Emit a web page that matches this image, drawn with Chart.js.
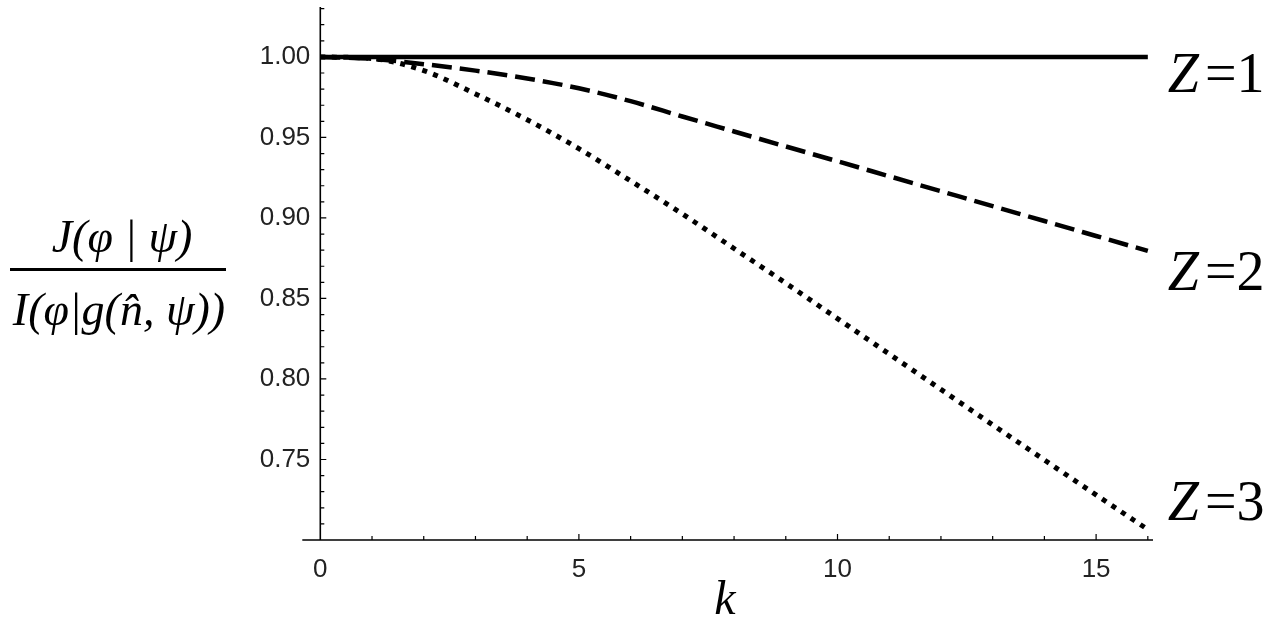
<!DOCTYPE html>
<html>
<head>
<meta charset="utf-8">
<script src="https://cdn.jsdelivr.net/npm/chart.js@4/dist/chart.umd.min.js"></script>
<style>
  html, body { margin: 0; padding: 0; background: #fff; }
  #wrap { width: 1287px; height: 643px; }
</style>
</head>
<body>
<div id="wrap"><canvas id="plot" width="1287" height="643"></canvas></div>
<script>
// values
const kValues = [0, 1, 2, 3, 4, 5, 6, 7, 8, 9, 10, 11, 12, 13, 14, 15, 16];
const z1Values = [1, 1, 1, 1, 1, 1, 1, 1, 1, 1, 1, 1, 1, 1, 1, 1, 1];
const z2Values = [1.0000, 0.9988, 0.9955, 0.9915, 0.9866, 0.9805, 0.9725, 0.9630, 0.9537, 0.9444,
  0.9352, 0.9259, 0.9166, 0.9073, 0.8981, 0.8888, 0.8795];
const z3Values = [1.0000, 0.9990, 0.9915, 0.9770, 0.9610, 0.9430, 0.9230, 0.9025, 0.8810, 0.8595,
  0.8375, 0.8155, 0.7935, 0.7715, 0.7497, 0.7280, 0.7065];
const seriesNames = ['1', '2', '3'];
const xTickLabels = [0, 5, 10, 15];
const yTickLabels = [0.75, 0.80, 0.85, 0.90, 0.95, 1.00];

const black = '#000';

function pts(ys) {
  return kValues.map((k, i) => ({ x: k, y: ys[i] }));
}

// axis lines, inward ticks, titles and curve labels
const decorations = {
  id: 'decorations',
  afterDraw(chart) {
    const ctx = chart.ctx;
    const xs = chart.scales.x, ys = chart.scales.y;
    const area = chart.chartArea;
    ctx.save();
    ctx.strokeStyle = black;
    ctx.lineWidth = 1.6;
    ctx.beginPath();
    ctx.moveTo(area.left - 18, area.bottom);
    ctx.lineTo(area.right, area.bottom);
    ctx.moveTo(area.left, area.top);
    ctx.lineTo(area.left, area.bottom);
    ctx.stroke();

    ctx.lineWidth = 1.2;
    ctx.beginPath();
    for (let k = 1; k <= 16; k++) {
      const px = xs.getPixelForValue(k);
      const len = k % 5 === 0 ? 6 : 4;
      ctx.moveTo(px, area.bottom);
      ctx.lineTo(px, area.bottom - len);
    }
    for (let j = 71; j <= 103; j++) {
      const py = ys.getPixelForValue(j / 100);
      const len = j % 5 === 0 ? 6 : 4;
      ctx.moveTo(area.left, py);
      ctx.lineTo(area.left + len, py);
    }
    ctx.stroke();

    // x title
    ctx.fillStyle = black;
    ctx.textAlign = 'center';
    ctx.textBaseline = 'alphabetic';
    ctx.font = 'italic 48px "Liberation Serif", "DejaVu Serif", serif';
    ctx.fillText('k', 725, 614);

    // y title as a fraction
    ctx.font = 'italic 46px "Liberation Serif", "DejaVu Serif", serif';
    ctx.fillText('J(\u03C6 | \u03C8)', 122, 252);
    ctx.fillText('I(\u03C6|g(n\u0302, \u03C8))', 119, 325);
    ctx.fillRect(10, 268, 216, 3);

    // curve labels at the right end of each curve
    const lastK = kValues[kValues.length - 1];
    const ends = [z1Values, z2Values, z3Values].map(v => v[v.length - 1]);
    const shift = [20, 24, -24];
    ctx.textAlign = 'left';
    ctx.textBaseline = 'middle';
    seriesNames.forEach((n, i) => {
      const x0 = xs.getPixelForValue(lastK) + 20;
      const y0 = ys.getPixelForValue(ends[i]) + shift[i];
      ctx.font = 'italic 56px "Liberation Serif", "DejaVu Serif", serif';
      ctx.fillText('Z', x0, y0);
      const w = ctx.measureText('Z').width;
      ctx.font = '56px "Liberation Serif", "DejaVu Serif", serif';
      ctx.fillText('=' + n, x0 + w + 6, y0);
    });
    ctx.restore();
  }
};

const tickFont = { family: '"Liberation Sans", Arial, sans-serif', size: 26 };

function noPad(s) {
  s.paddingTop = 0;
  s.paddingBottom = 0;
  s.paddingLeft = 0;
  s.paddingRight = 0;
}

new Chart(document.getElementById('plot'), {
  type: 'line',
  data: {
    datasets: [
      { label: 'z=1', data: pts(z1Values), borderColor: black, borderWidth: 4.5, borderDash: [] },
      { label: 'z=2', data: pts(z2Values), borderColor: black, borderWidth: 4.5, borderDash: [20, 8] },
      { label: 'z=3', data: pts(z3Values), borderColor: black, borderWidth: 5, borderDash: [5, 6.5] }
    ]
  },
  options: {
    responsive: false,
    animation: false,
    layout: { padding: { left: 256, right: 134, top: 7, bottom: 53 } },
    elements: {
      point: { radius: 0 },
      line: { cubicInterpolationMode: 'monotone', borderCapStyle: 'butt', fill: false }
    },
    plugins: { legend: { display: false }, tooltip: { enabled: false } },
    scales: {
      x: {
        type: 'linear',
        min: 0,
        max: 16.1,
        grid: { display: false, drawTicks: false },
        border: { display: false },
        afterFit(s) { s.height = 50; noPad(s); },
        afterBuildTicks(s) { s.ticks = xTickLabels.map(v => ({ value: v })); },
        ticks: { color: '#222', font: tickFont, padding: 14, maxRotation: 0, callback: v => String(v) }
      },
      y: {
        type: 'linear',
        min: 0.70,
        max: 1.031,
        grid: { display: false, drawTicks: false },
        border: { display: false },
        afterFit(s) { s.width = 64.3; noPad(s); },
        afterBuildTicks(s) { s.ticks = yTickLabels.map(v => ({ value: v })); },
        ticks: { color: '#222', font: tickFont, padding: 10, callback: v => v.toFixed(2) }
      }
    }
  },
  plugins: [decorations]
});
</script>
</body>
</html>
